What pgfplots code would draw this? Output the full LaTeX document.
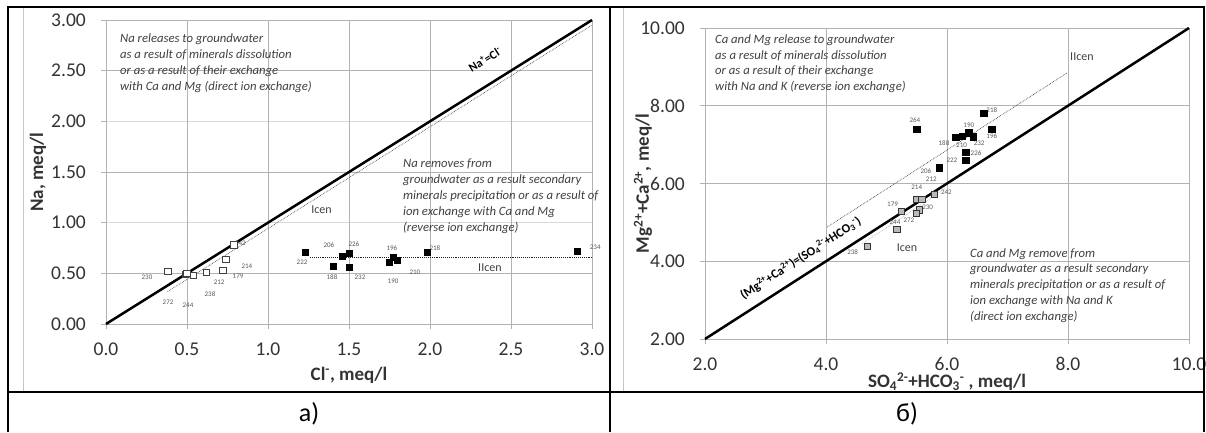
\documentclass[border=0pt]{standalone}
\usepackage{fontspec}
\setmainfont{Carlito}
\usepackage{pgfplots}
\pgfplotsset{compat=1.18}
\pgfkeys{/pgf/number format/assume math mode=true}
\newcommand\pl[3]{\node[font=\fontsize{7}{8}\selectfont, text=black!65, inner sep=0pt] at (axis cs:#1,#2) {#3};}
\pgfplotsset{
  myaxis/.style={
    scale only axis, clip=false,
    axis line style={gray!60, line width=0.8pt},
    tick style={gray!60, line width=0.8pt},
    major tick length=5pt, tick align=outside, tick pos=left,
    grid=major, major grid style={gray!60, line width=0.8pt},
    tick label style={font=\fontsize{19.5}{22}\selectfont, text=black!80},
    label style={font=\bfseries\fontsize{19}{22}\selectfont, text=black!80},
    yticklabel style={anchor=east, inner sep=0pt, xshift=-15pt,
      /pgf/number format/fixed, /pgf/number format/fixed zerofill, /pgf/number format/precision=2},
    xticklabel style={anchor=center, inner sep=0pt, yshift=-20pt,
      /pgf/number format/fixed, /pgf/number format/fixed zerofill, /pgf/number format/precision=1},
  },
}
\tikzset{note/.style={anchor=north west, align=left, inner sep=0pt,
    font=\itshape\fontsize{12.7}{15.8}\selectfont, text=black!75}}
\begin{document}
\begin{tikzpicture}[x=1pt,y=1pt]
\useasboundingbox (0,0) rectangle (1206,432);
% chart frames
\draw[gray!45, line width=0.8pt] (23,41.5) -- (23,424);
\draw[gray!45, line width=0.8pt] (623,41.5) -- (623,424);

% ---------------- left chart ----------------
\begin{axis}[myaxis,
  at={(106pt,108pt)}, anchor=south west, width=486pt, height=304pt,
  xmin=0, xmax=3, ymin=0, ymax=3,
  xtick={0,0.5,...,3}, ytick={0,0.5,...,3},
  major grid style={gray!30, line width=0.8pt},
  extra y ticks={0.5,1.5,2.5}, extra y tick labels={},
  extra y tick style={grid=major, major grid style={gray!60, line width=0.8pt}},
  extra x ticks={0.5,1,1.5,2,2.5}, extra x tick labels={},
  extra x tick style={grid=major, major grid style={gray!60, line width=0.8pt}},
  xlabel={Cl\textsuperscript{-}, meq/l}, ylabel={Na, meq/l},
  xlabel style={at={(axis description cs:0.5,-0.168)}, anchor=center},
  ylabel style={at={(axis description cs:-0.14,0.5)}, anchor=center},
]
\addplot[black, line width=2.5pt] coordinates {(0,0) (3,3)};
\addplot[gray!60!black, densely dotted, line width=0.7pt] coordinates {(0.38,0.32) (3,2.95)};
\addplot[gray!25!black, densely dotted, line width=0.9pt] coordinates {(1.26,0.655) (3,0.655)};
% Icen (open squares)
\addplot[only marks, mark=square*, mark size=3.3pt,
  mark options={fill=white, draw=gray!50!black, line width=0.6pt}] coordinates {
  (0.38,0.52) (0.49,0.49) (0.50,0.50) (0.54,0.48) (0.62,0.51)
  (0.72,0.53) (0.74,0.64) (0.79,0.78)};
% IIcen (filled squares)
\addplot[only marks, mark=square*, mark size=3pt,
  mark options={fill=black, draw=black}] coordinates {
  (1.23,0.71) (1.46,0.67) (1.50,0.70) (1.40,0.57) (1.50,0.56)
  (1.77,0.66) (1.75,0.61) (1.80,0.63) (1.98,0.71) (2.91,0.72)};
\pl{0.253}{0.464}{230}
\pl{0.383}{0.217}{272}
\pl{0.506}{0.188}{244}
\pl{0.642}{0.296}{238}
\pl{0.698}{0.415}{212}
\pl{0.815}{0.474}{179}
\pl{0.87}{0.573}{214}
\pl{0.83}{0.800}{242}
\pl{1.21}{0.61}{222}
\pl{1.376}{0.78}{206}
\pl{1.53}{0.79}{226}
\pl{1.395}{0.464}{188}
\pl{1.568}{0.464}{232}
\pl{1.765}{0.75}{196}
\pl{1.772}{0.424}{190}
\pl{1.907}{0.513}{210}
\pl{2.03}{0.75}{218}
\pl{3.02}{0.76}{234}
\node[font=\fontsize{12}{14}\selectfont, text=black!75] at (axis cs:1.33,1.13) {Icen};
\node[font=\fontsize{12}{14}\selectfont, text=black!75] at (axis cs:2.37,0.56) {IIcen};
\node[rotate=32, font=\bfseries\fontsize{12}{14}\selectfont] at (axis cs:2.34,2.61) {Na\textsuperscript{+}=Cl\textsuperscript{-}};
\node[note] at (axis cs:0.086,2.863) {Na releases to groundwater\\as a result of minerals dissolution\\or as a result of their exchange\\with Ca and Mg (direct ion exchange)};
\node[note] at (axis cs:1.833,1.629) {Na removes from\\groundwater as a result secondary\\minerals precipitation or as a result of\\ion exchange with Ca and Mg\\(reverse ion exchange)};
\end{axis}

% ---------------- right chart ----------------
\begin{axis}[myaxis,
  at={(705pt,93pt)}, anchor=south west, width=484pt, height=311pt,
  xmin=2, xmax=10, ymin=2, ymax=10,
  xtick={2,4,...,10}, ytick={2,4,...,10},
  xlabel={SO\textsubscript{4}\textsuperscript{2-}+HCO\textsubscript{3}\textsuperscript{-} , meq/l},
  ylabel={Mg\textsuperscript{2+}+Ca\textsuperscript{2+}, meq/l},
  xlabel style={at={(axis description cs:0.5,-0.138)}, anchor=center},
  ylabel style={at={(axis description cs:-0.128,0.5)}, anchor=center},
]
\addplot[black, line width=2.5pt] coordinates {(2,2) (10,10)};
\addplot[gray!50!black, densely dotted, line width=0.7pt] coordinates {(4.02,4.88) (7.98,8.84)};
\addplot[gray!60, densely dotted, line width=0.7pt] coordinates {(4.6,4.45) (6.0,5.9)};
% IIcen (filled)
\addplot[only marks, mark=square*, mark size=3.3pt,
  mark options={fill=black, draw=black}] coordinates {
  (6.61,7.81) (5.50,7.40) (6.74,7.40) (6.36,7.30) (6.14,7.19)
  (6.25,7.22) (6.43,7.20) (6.31,6.81) (6.31,6.60) (5.87,6.40)};
% Icen (gray)
\addplot[only marks, mark=square*, mark size=3.2pt,
  mark options={fill=gray!55, draw=gray!40!black, line width=0.5pt}] coordinates {
  (5.79,5.73) (5.50,5.60) (5.58,5.60) (5.24,5.29) (5.54,5.32)
  (5.49,5.24) (5.17,4.82) (4.68,4.39)};
\pl{6.74}{7.89}{218}
\pl{5.47}{7.62}{264}
\pl{6.74}{7.22}{196}
\pl{6.36}{7.50}{190}
\pl{5.95}{7.04}{188}
\pl{6.24}{6.98}{210}
\pl{6.53}{7.04}{232}
\pl{6.48}{6.78}{226}
\pl{6.08}{6.60}{222}
\pl{5.65}{6.32}{206}
\pl{5.99}{5.78}{242}
\pl{5.50}{5.90}{214}
\pl{5.74}{6.11}{212}
\pl{5.10}{5.47}{179}
\pl{5.68}{5.40}{230}
\pl{5.37}{5.06}{272}
\pl{5.14}{5.00}{244}
\pl{4.44}{4.24}{238}
\node[font=\fontsize{12}{14}\selectfont, text=black!75] at (axis cs:5.34,4.34) {Icen};
\node[font=\fontsize{12}{14}\selectfont, text=black!75] at (axis cs:8.23,9.25) {IIcen};
\node[rotate=32.7, font=\bfseries\fontsize{12.5}{14}\selectfont] at (axis cs:3.58,4.08) {(Mg\textsuperscript{2+}+Ca\textsuperscript{2+})=(SO\textsubscript{4}\textsuperscript{2-}+HCO\textsubscript{3}\textsuperscript{-})};
\node[note] at (axis cs:2.165,9.84) {Ca and Mg release to groundwater\\as a result of minerals dissolution\\or as a result of their exchange\\with Na and K (reverse ion exchange)};
\node[note] at (axis cs:6.38,4.34) {Ca and Mg remove from\\groundwater as a result secondary\\minerals precipitation or as a result of\\ion exchange with Na and K\\(direct ion exchange)};
\end{axis}

% table lines
\draw[line width=2.5pt] (8,0) -- (8,425) -- (1204,425) -- (1204,0);
\draw[line width=2.5pt] (6.75,40) -- (1205.25,40);
\draw[line width=2.5pt] (610,0) -- (610,425);
\node[font=\fontsize{26}{30}\selectfont] at (309,18) {а)};
\node[font=\fontsize{26}{30}\selectfont] at (907,18) {б)};
\end{tikzpicture}
\end{document}
